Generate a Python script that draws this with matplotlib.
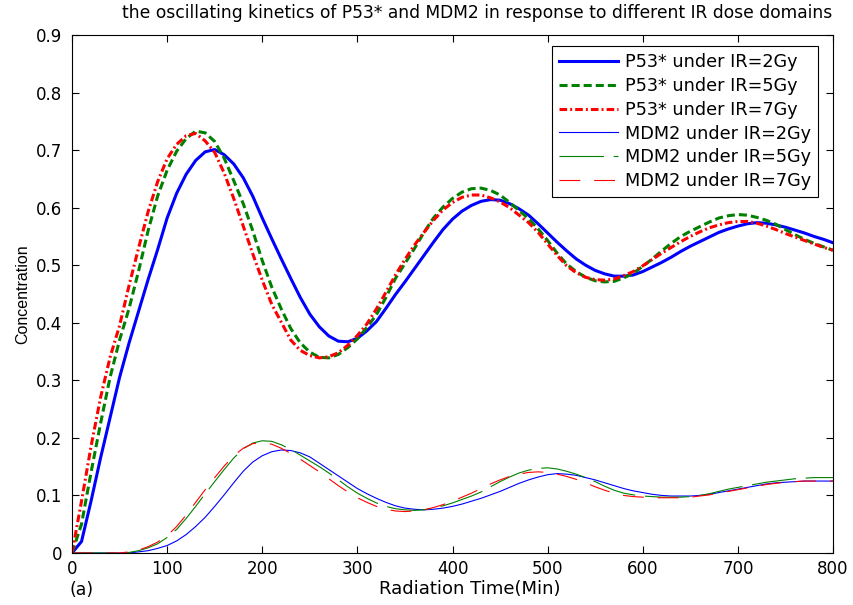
import numpy as np
import matplotlib
matplotlib.use("Agg")
import matplotlib.pyplot as plt

plt.rcParams['font.family'] = ['DejaVu Sans']
plt.rcParams['lines.scale_dashes'] = False

# radiation time (min), one sample every 10 min
t = np.arange(0, 801, 10)

p53_2gy = [0.0, 0.02, 0.09, 0.165, 0.235, 0.305, 0.365, 0.42, 0.475, 0.527,
           0.582, 0.625, 0.658, 0.682, 0.697, 0.701, 0.692, 0.676, 0.652, 0.62,
           0.582, 0.546, 0.511, 0.477, 0.444, 0.415, 0.393, 0.377, 0.368, 0.367,
           0.373, 0.386, 0.402, 0.425, 0.449, 0.471, 0.494, 0.517, 0.54, 0.562,
           0.58, 0.594, 0.604, 0.611, 0.614, 0.613, 0.607, 0.598, 0.587, 0.572,
           0.556, 0.54, 0.525, 0.511, 0.5, 0.491, 0.485, 0.481, 0.481, 0.483,
           0.489, 0.497, 0.505, 0.514, 0.524, 0.533, 0.541, 0.549, 0.557, 0.563,
           0.568, 0.572, 0.574, 0.573, 0.57, 0.566, 0.561, 0.556, 0.55, 0.545,
           0.539]
p53_5gy = [0.0, 0.05, 0.14, 0.225, 0.305, 0.37, 0.425, 0.49, 0.56, 0.62,
           0.665, 0.698, 0.72, 0.733, 0.73, 0.715, 0.686, 0.647, 0.607, 0.56,
           0.508, 0.462, 0.424, 0.39, 0.365, 0.349, 0.34, 0.339, 0.345, 0.357,
           0.372, 0.392, 0.414, 0.444, 0.477, 0.503, 0.529, 0.557, 0.582, 0.601,
           0.616, 0.627, 0.633, 0.634, 0.63, 0.622, 0.609, 0.595, 0.581, 0.563,
           0.543, 0.521, 0.502, 0.489, 0.479, 0.473, 0.471, 0.472, 0.478, 0.486,
           0.498, 0.511, 0.525, 0.538, 0.55, 0.559, 0.567, 0.575, 0.582, 0.586,
           0.588, 0.587, 0.583, 0.578, 0.571, 0.562, 0.553, 0.545, 0.538, 0.532,
           0.526]
p53_7gy = [0.0, 0.09, 0.185, 0.27, 0.34, 0.395, 0.465, 0.53, 0.593, 0.645,
           0.685, 0.71, 0.725, 0.729, 0.716, 0.696, 0.66, 0.616, 0.568, 0.52,
           0.474, 0.432, 0.401, 0.37, 0.352, 0.343, 0.339, 0.341, 0.348, 0.361,
           0.378, 0.398, 0.424, 0.453, 0.483, 0.51, 0.535, 0.557, 0.578, 0.596,
           0.609, 0.618, 0.622, 0.622, 0.617, 0.61, 0.6, 0.587, 0.574, 0.557,
           0.537, 0.517, 0.499, 0.487, 0.479, 0.475, 0.474, 0.476, 0.482, 0.489,
           0.499, 0.51, 0.521, 0.531, 0.541, 0.55, 0.558, 0.565, 0.57, 0.574,
           0.576, 0.576, 0.573, 0.568, 0.562, 0.555, 0.549, 0.543, 0.537, 0.531,
           0.526]

mdm2_2gy = [0.0, 0.0, 0.0, 0.0, 0.0, 0.0, 0.0, 0.002, 0.004, 0.008,
            0.013, 0.021, 0.032, 0.046, 0.062, 0.081, 0.101, 0.122, 0.142, 0.158,
            0.169, 0.176, 0.179, 0.178, 0.174, 0.167, 0.156, 0.145, 0.134, 0.123,
            0.112, 0.103, 0.095, 0.088, 0.082, 0.078, 0.076, 0.075, 0.076, 0.078,
            0.081, 0.085, 0.09, 0.095, 0.101, 0.107, 0.114, 0.121, 0.127, 0.132,
            0.136, 0.138, 0.137, 0.135, 0.131, 0.127, 0.122, 0.117, 0.112, 0.108,
            0.105, 0.102, 0.1, 0.099, 0.099, 0.099, 0.1, 0.102, 0.105, 0.108,
            0.111, 0.114, 0.117, 0.12, 0.122, 0.123, 0.124, 0.125, 0.125, 0.125,
            0.125]
mdm2_5gy = [0.0, 0.0, 0.0, 0.0, 0.0, 0.0, 0.001, 0.004, 0.009, 0.016,
            0.027, 0.041, 0.06, 0.081, 0.103, 0.124, 0.145, 0.165, 0.181, 0.191,
            0.195, 0.194, 0.188, 0.18, 0.17, 0.16, 0.15, 0.139, 0.127, 0.115,
            0.104, 0.095, 0.087, 0.081, 0.077, 0.075, 0.074, 0.075, 0.078, 0.082,
            0.087, 0.093, 0.099, 0.106, 0.115, 0.124, 0.132, 0.139, 0.144, 0.147,
            0.148, 0.146, 0.142, 0.137, 0.131, 0.124, 0.116, 0.109, 0.104, 0.101,
            0.099, 0.098, 0.097, 0.097, 0.097, 0.098, 0.1, 0.103, 0.107, 0.111,
            0.114, 0.117, 0.12, 0.123, 0.125, 0.127, 0.129, 0.13, 0.131, 0.131,
            0.131]
mdm2_7gy = [0.0, 0.0, 0.0, 0.0, 0.0, 0.0, 0.002, 0.005, 0.011, 0.019,
            0.03, 0.046, 0.066, 0.088, 0.11, 0.131, 0.151, 0.169, 0.182, 0.19,
            0.192, 0.189, 0.182, 0.173, 0.163, 0.152, 0.141, 0.129, 0.117, 0.106,
            0.096, 0.088, 0.081, 0.076, 0.073, 0.072, 0.073, 0.075, 0.079, 0.084,
            0.09, 0.097, 0.104, 0.112, 0.12, 0.127, 0.133, 0.137, 0.14, 0.141,
            0.14, 0.137, 0.133, 0.128, 0.122, 0.115, 0.109, 0.104, 0.1, 0.098,
            0.097, 0.096, 0.096, 0.096, 0.096, 0.097, 0.099, 0.101, 0.104, 0.107,
            0.11, 0.113, 0.116, 0.119, 0.121, 0.123, 0.124, 0.125, 0.125, 0.125,
            0.125]

labels = ['P53* under IR=2Gy', 'P53* under IR=5Gy', 'P53* under IR=7Gy',
          'MDM2 under IR=2Gy', 'MDM2 under IR=5Gy', 'MDM2 under IR=7Gy']

fig = plt.figure(figsize=(8.54, 6.05), dpi=100)
ax = fig.add_axes([72/854, 52/605, 761/854, 518/605])

ax.plot(t, p53_2gy, color='#0000ff', lw=2.2, label=labels[0])
ax.plot(t, p53_5gy, color='#008000', lw=2.2, dashes=[5.8, 2.9], label=labels[1])
ax.plot(t, p53_7gy, color='#ff0000', lw=2.2, dashes=[5.5, 2.2, 1.4, 2.2], label=labels[2])
ax.plot(t, mdm2_2gy, color='#0000ff', lw=0.8, label=labels[3])
ax.plot(t, mdm2_5gy, color='#008000', lw=0.8, dashes=[32, 7], label=labels[4])
ax.plot(t, mdm2_7gy, color='#ff0000', lw=0.8, dashes=[15, 10], label=labels[5])

ax.set_xlim(0, 800)
ax.set_ylim(0, 0.9)
ax.set_xticks(np.arange(0, 801, 100))
ax.set_yticks(np.arange(0, 0.91, 0.1))
ax.set_yticklabels(['0'] + ['%.1f' % v for v in np.arange(0.1, 0.91, 0.1)])
ax.tick_params(direction='in', length=5, width=0.8, top=True, right=True, labelsize=12)
ax.tick_params(axis='y', pad=7)
ax.tick_params(axis='x', pad=5)
for s in ax.spines.values():
    s.set_linewidth(0.8)

ax.set_title('the oscillating kinetics of P53* and MDM2 in response to different IR dose domains',
             fontsize=12.3, x=0.532, pad=12)
ax.set_xlabel('Radiation Time(Min)', fontsize=13)
ax.xaxis.set_label_coords(0.523, -0.053)
ax.set_ylabel('Concentration', fontsize=11.5, family='Liberation Sans')
fig.text(82/854, 1 - 590/605, '(a)', fontsize=12.5, ha='center', va='center')

leg = ax.legend(loc='upper right', bbox_to_anchor=(818/854, 1 - 46/605), bbox_transform=fig.transFigure,
                fontsize=12.7, frameon=True, fancybox=False, edgecolor='black', framealpha=1,
                handlelength=3.35, labelspacing=0.33, borderpad=0.4, handletextpad=0.4,
                borderaxespad=0)
leg.get_frame().set_linewidth(0.8)

fig.savefig('out.png', dpi=100)
